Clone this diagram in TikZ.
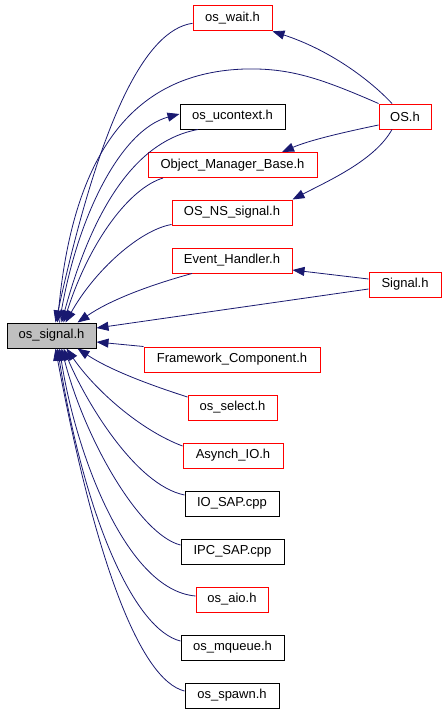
\documentclass[tikz,border=0pt]{standalone}
\usepackage{fontspec}
\setmainfont{Liberation Sans}
\usetikzlibrary{arrows.meta}
\definecolor{edgeblue}{HTML}{191970}
\definecolor{boxgray}{HTML}{BFBFBF}
\begin{document}
\begin{tikzpicture}[x=1pt,y=-1pt,
  fbox/.style={draw, line width=1pt, minimum height=25pt, inner sep=0pt, font=\fontsize{13}{15}\selectfont},
  rbox/.style={fbox, draw=red},
  kbox/.style={fbox, draw=black},
  gbox/.style={fbox, draw=black, fill=boxgray},
  dep/.style={draw=edgeblue, line width=0.8pt, -{Triangle[length=12pt,width=9pt]}, fill=none}
]
\useasboundingbox (0,0) rectangle (445,712);
% nodes
\node[rbox, minimum width=79pt]  (wait) at (232.5,18.3) {os\_wait.h};
\node[kbox, minimum width=105pt] (uc)   at (232.5,116.5) {os\_ucontext.h};
\node[rbox, minimum width=52pt]  (os)   at (405,116.5) {OS.h};
\node[rbox, minimum width=169pt] (obj)  at (232.5,165) {Object\_Manager\_Base.h};
\node[rbox, minimum width=120pt] (ns)   at (232,212.5) {OS\_NS\_signal.h};
\node[rbox, minimum width=120pt] (eh)   at (232,260.5) {Event\_Handler.h};
\node[rbox, minimum width=72pt]  (sgl)  at (405,284.5) {Signal.h};
\node[gbox, minimum width=89pt]  (sig)  at (51.5,335.5) {os\_signal.h};
\node[rbox, minimum width=176pt] (fw)   at (232,359.5) {Framework\_Component.h};
\node[rbox, minimum width=89pt]  (sel)  at (232.5,407.5) {os\_select.h};
\node[rbox, minimum width=100pt] (aio)  at (233,455.5) {Asynch\_IO.h};
\node[kbox, minimum width=94pt]  (io)   at (232,503.5) {IO\_SAP.cpp};
\node[kbox, minimum width=103pt] (ipc)  at (232.5,551.5) {IPC\_SAP.cpp};
\node[rbox, minimum width=72pt]  (osaio) at (232,599.5) {os\_aio.h};
\node[kbox, minimum width=103pt] (mq)   at (232.5,647.5) {os\_mqueue.h};
\node[kbox, minimum width=94pt]  (sp)   at (232,695.5) {os\_spawn.h};
% edges from OS.h
\draw[dep] ([xshift=-13pt]os.north) .. controls (370,80) and (330,50) .. (wait.south east);
\draw[dep] (os.north west) .. controls (320,78) and (290,68) .. (245,69)
   .. controls (150,72) and (75,130) .. ([xshift=51pt]sig.north west);
\draw[dep] ([yshift=-8.5pt]os.west) .. controls (345,132) and (310,140) .. ([xshift=49.5pt]obj.north);
\draw[dep] ([xshift=-13pt]os.south) .. controls (375,160) and (330,180) .. (ns.north east);
% edges from Signal.h
\draw[dep] ([yshift=5.5pt]sgl.west) -- ([yshift=-9.5pt]eh.east);
\draw[dep] ([yshift=-4.5pt]sgl.west) -- ([yshift=7.5pt]sig.east);
% top group into os_signal
\draw[dep] ([yshift=-5pt]wait.west) .. controls (145,30) and (100,120) .. ([xshift=49pt]sig.north west);
\draw[dep] ([xshift=53pt]sig.north west) .. controls (75,220) and (120,130) .. ([yshift=2.5pt]uc.west);
\draw[dep] ([xshift=-34.5pt]uc.south) .. controls (140,140) and (95,200) .. ([xshift=55pt]sig.north west);
\draw[dep] ([xshift=-69.5pt]obj.south) .. controls (130,188) and (90,240) .. ([xshift=57pt]sig.north west);
\draw[dep] ([yshift=1pt]ns.south west) .. controls (140,230) and (95,270) .. ([xshift=59pt]sig.north west);
\draw[dep] ([xshift=-40pt]eh.south) .. controls (150,285) and (110,300) .. ([xshift=71pt]sig.north west);
% bottom group into os_signal
\draw[dep] (fw.north west) -- ([yshift=-6.5pt]sig.east);
\draw[dep] ([yshift=10.5pt]sel.west) .. controls (150,385) and (110,370) .. ([xshift=71pt]sig.south west);
\draw[dep] ([yshift=9.5pt]aio.west) .. controls (140,430) and (95,390) .. ([xshift=60pt]sig.south west);
\draw[dep] ([yshift=8.5pt]io.west) .. controls (135,485) and (85,400) .. ([xshift=57pt]sig.south west);
\draw[dep] ([yshift=6.5pt]ipc.west) .. controls (140,535) and (85,440) .. ([xshift=55pt]sig.south west);
\draw[dep] ([yshift=3.5pt]osaio.west) .. controls (125,590) and (75,450) .. ([xshift=53pt]sig.south west);
\draw[dep] ([yshift=6.5pt]mq.west) .. controls (135,630) and (85,520) .. ([xshift=51pt]sig.south west);
\draw[dep] ([yshift=4.5pt]sp.west) .. controls (140,680) and (95,560) .. ([xshift=49pt]sig.south west);
\end{tikzpicture}
\end{document}
